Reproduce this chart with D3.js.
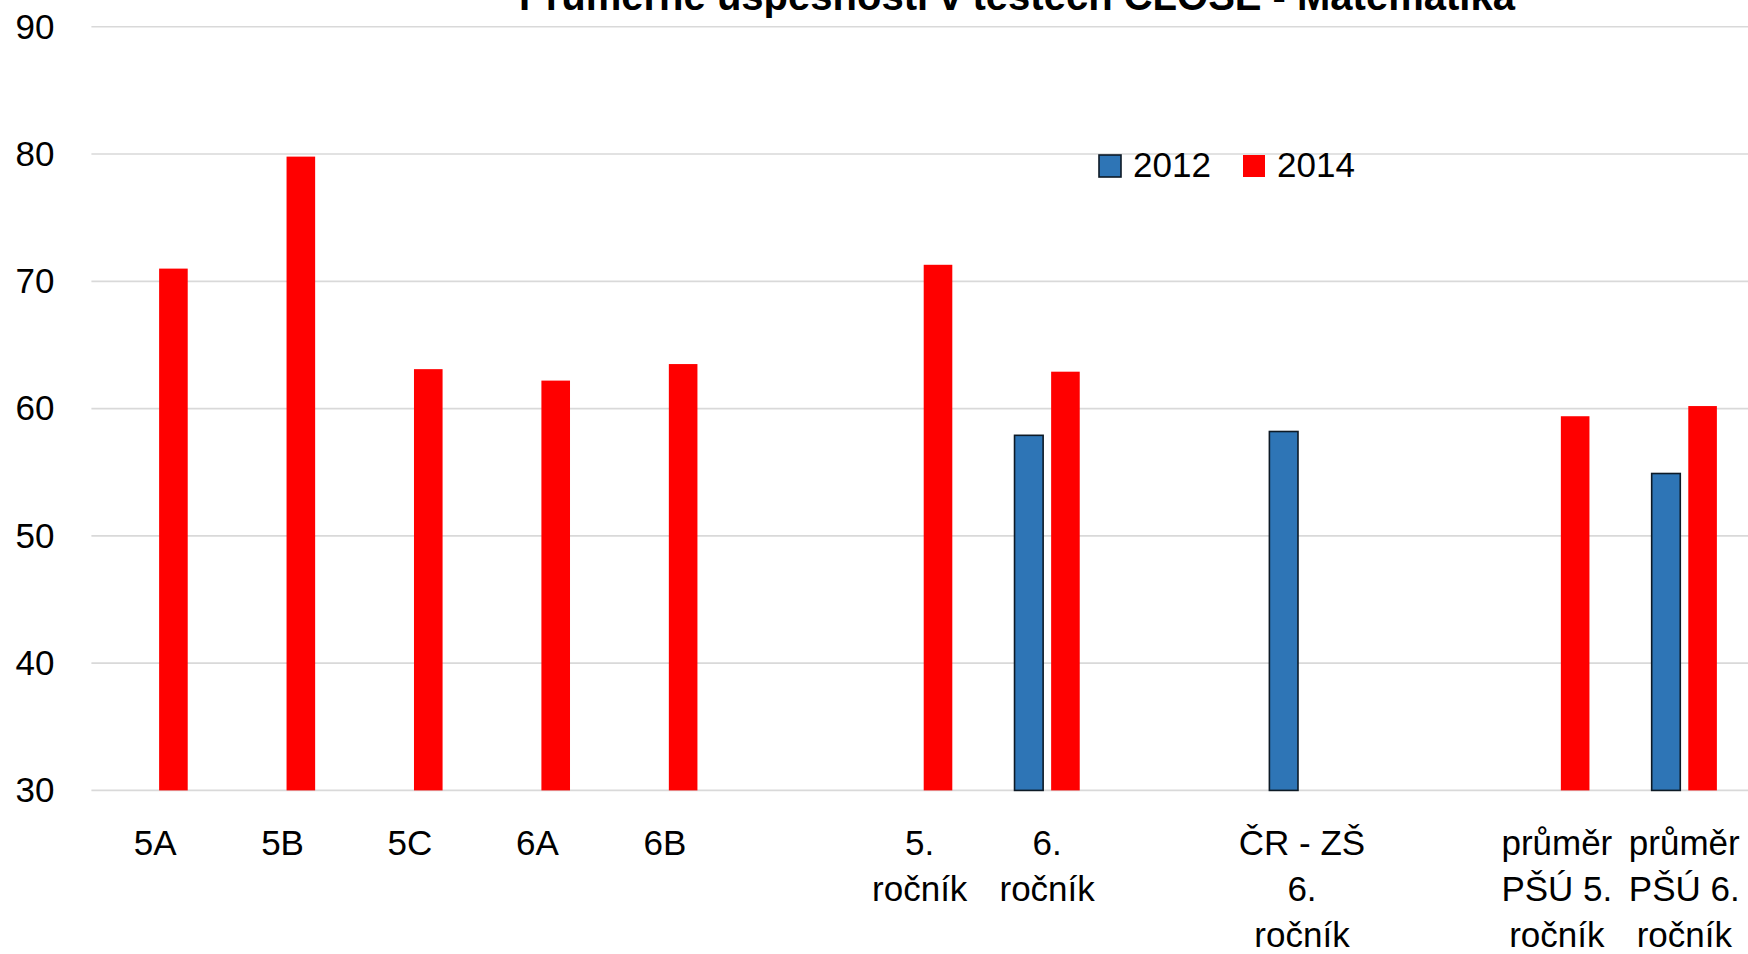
<!DOCTYPE html>
<html>
<head>
<meta charset="utf-8">
<script src="https://cdn.jsdelivr.net/npm/d3@7"></script>
<style>
    body { margin: 0; background: #fff; }
    svg { display: block; font-family: "Liberation Sans", Arial, sans-serif; }
</style>
</head>
<body>
<script>
//categories, blank ones are the gaps between groups
//"\n" marks where the label wraps
var categories = ["5A", "5B", "5C", "6A", "6B", "",
                  "5.\nročník", "6.\nročník", "",
                  "ČR - ZŠ\n6.\nročník", "",
                  "průměr\nPŠÚ 5.\nročník", "průměr\nPŠÚ 6.\nročník"];

//series names
var seriesNames = ["2012", "2014"];

//values (null = no bar)
var values2012 = [null, null, null, null, null, null, null, 57.9, null, 58.2, null, null, 54.9];
var values2014 = [71.0, 79.8, 63.1, 62.2, 63.5, null, 71.3, 62.9, null, null, null, 59.4, 60.2];

//y axis ticks
var yTicks = [30, 40, 50, 60, 70, 80, 90];

var titleText = "Průměrné úspěšnosti v testech CLOSE - Matematika";

makeGraph();

function makeGraph() {
    var w = 1748;
    var h = 954;

    //plot area
    var left = 91.4;
    var right = 1748;
    var top = 26.8;
    var bottom = 790.4;

    var colors = {"2012": "#2e75b6", "2014": "#ff0000"};

    var svg = d3.select("body").append("svg")
        .attr("width", w)
        .attr("height", h);

    var x = d3.scaleBand()
        .domain(d3.range(categories.length))
        .range([left, right])
        .padding(0);

    //position of the two bars inside one category
    var inner = d3.scaleBand()
        .domain(seriesNames)
        .range([x.bandwidth() / 2 - 32.6, x.bandwidth() / 2 + 32.6])
        .paddingInner(0.2186)
        .paddingOuter(0);

    var y = d3.scaleLinear()
        .domain([30, 90])
        .range([bottom, top]);

    //gridlines
    svg.append("g")
        .selectAll("line")
        .data(yTicks)
        .enter()
        .append("line")
        .attr("x1", left)
        .attr("x2", right)
        .attr("y1", function(d) { return y(d); })
        .attr("y2", function(d) { return y(d); })
        .attr("stroke", "#d9d9d9")
        .attr("stroke-width", 1.6);

    //y axis labels
    var yAxis = svg.append("g")
        .attr("transform", "translate(" + left + ",0)")
        .call(d3.axisLeft(y).tickValues(yTicks).tickSize(0).tickPadding(37));
    yAxis.select(".domain").remove();
    yAxis.selectAll("text")
        .attr("font-size", 35)
        .attr("font-family", "Liberation Sans, Arial, sans-serif")
        .attr("fill", "#000");

    //bars, one group per series
    var rows = [];
    for(var i = 0; i < categories.length; i++) {
        if(values2012[i] !== null) rows.push({i: i, s: "2012", v: values2012[i]});
        if(values2014[i] !== null) rows.push({i: i, s: "2014", v: values2014[i]});
    }

    svg.append("g")
        .selectAll("rect")
        .data(rows)
        .enter()
        .append("rect")
        .attr("x", function(d) { return x(d.i) + inner(d.s); })
        .attr("y", function(d) { return y(d.v); })
        .attr("width", inner.bandwidth())
        .attr("height", function(d) { return y(30) - y(d.v); })
        .attr("fill", function(d) { return colors[d.s]; })
        .attr("stroke", function(d) { return d.s == "2012" ? "#0d1a26" : "none"; })
        .attr("stroke-width", 1.6);

    //x axis labels, wrapped onto several lines
    var xAxis = svg.append("g")
        .attr("transform", "translate(0," + bottom + ")")
        .call(d3.axisBottom(x).tickSize(0).tickFormat(""));
    xAxis.select(".domain").remove();
    xAxis.selectAll(".tick text").remove();

    xAxis.selectAll(".tick").each(function(d) {
        var lines = categories[d].split("\n");
        var t = d3.select(this).append("text")
            .attr("text-anchor", "middle")
            .attr("font-size", 35)
            .attr("fill", "#000");
        for(var k = 0; k < lines.length; k++) {
            t.append("tspan")
                .attr("x", 0)
                .attr("y", 65 + k * 46)
                .text(lines[k]);
        }
    });

    //title, cut off at the top like in the original
    svg.append("text")
        .attr("x", 1017)
        .attr("y", 10)
        .attr("text-anchor", "middle")
        .attr("font-size", 40)
        .attr("font-weight", "bold")
        .attr("fill", "#000")
        .text(titleText);

    //legend
    var legendX = [1099, 1243];
    var legend = svg.append("g")
        .selectAll("g")
        .data(seriesNames)
        .enter()
        .append("g")
        .attr("transform", function(d, i) { return "translate(" + legendX[i] + ",155)"; });

    legend.append("rect")
        .attr("width", 22)
        .attr("height", 22)
        .attr("fill", function(d) { return colors[d]; })
        .attr("stroke", function(d) { return d == "2012" ? "#0d1a26" : "none"; })
        .attr("stroke-width", 1.6);

    legend.append("text")
        .attr("x", 34)
        .attr("y", 22)
        .attr("font-size", 35)
        .attr("fill", "#000")
        .text(function(d) { return d; });
}
</script>
</body>
</html>
